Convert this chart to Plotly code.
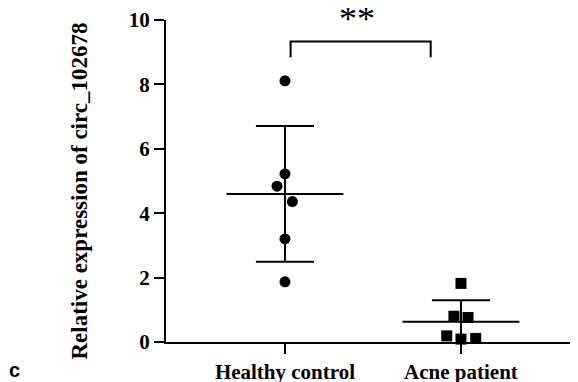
import numpy as np
import plotly.graph_objects as go

categories = ["Healthy control", "Acne patient"]
healthy_values = [8.11, 5.22, 4.84, 4.36, 3.20, 1.87]
acne_values = [1.82, 0.80, 0.76, 0.19, 0.09, 0.11]
y_ticks = [0, 2, 4, 6, 8, 10]
y_title = "Relative expression of circ_102678"
sig_label = "**"

# horizontal spread of points (layout only)
healthy_offsets = [0, 0, -0.045, 0.042, 0, 0]
acne_offsets = [0, -0.04, 0.04, -0.081, 0, 0.084]

FONT = "Liberation Serif"
fig = go.Figure()

groups = [(0, healthy_values, healthy_offsets, "circle"),
          (1, acne_values, acne_offsets, "square")]

for pos, vals, offs, sym in groups:
    vals = np.array(vals)
    m = vals.mean()
    sd = vals.std(ddof=1)
    lo = max(m - sd, 0)
    fig.add_trace(go.Scatter(
        x=[pos + o for o in offs], y=vals, mode="markers",
        marker=dict(symbol=sym, size=11, color="black"),
        cliponaxis=False, showlegend=False))
    line = dict(color="black", width=2)
    fig.add_trace(go.Scatter(x=[pos - 0.332, pos + 0.332], y=[m, m], mode="lines",
                             line=line, showlegend=False, cliponaxis=False))
    fig.add_trace(go.Scatter(x=[pos, pos], y=[lo, m + sd], mode="lines",
                             line=line, showlegend=False, cliponaxis=False))
    fig.add_trace(go.Scatter(x=[pos - 0.165, pos + 0.165], y=[m + sd, m + sd], mode="lines",
                             line=line, showlegend=False, cliponaxis=False))
    if m - sd > 0:
        fig.add_trace(go.Scatter(x=[pos - 0.165, pos + 0.165], y=[m - sd, m - sd], mode="lines",
                                 line=line, showlegend=False, cliponaxis=False))

# significance bracket
fig.add_trace(go.Scatter(x=[0.032, 0.032, 0.828, 0.828], y=[8.84, 9.33, 9.33, 8.84],
                         mode="lines", line=dict(color="black", width=2),
                         showlegend=False, cliponaxis=False))
fig.add_annotation(x=0.41, xref="x", yref="paper", y=1.003, text=sig_label, showarrow=False,
                   font=dict(family=FONT, size=36, color="black"), yanchor="middle")

# y-axis title as rotated annotation
fig.add_annotation(xref="paper", yref="paper", x=-0.209, y=0.47, textangle=-90,
                   text="<b>%s</b>" % y_title, showarrow=False,
                   xanchor="center", yanchor="middle",
                   font=dict(family=FONT, size=23, color="black"))

fig.add_annotation(xref="paper", yref="paper", x=-0.367, y=-0.087, xanchor="center",
                   yanchor="middle", text="<b>c</b>", showarrow=False,
                   font=dict(family="Liberation Sans", size=20, color="black"))

# page body has an 8px margin: figure is sized/offset to fill the 578x382 window
fig.update_layout(
    width=570, height=374,
    margin=dict(l=158, r=0, t=12, b=40),
    paper_bgcolor="white", plot_bgcolor="white",
    font=dict(family=FONT, color="black"),
    xaxis=dict(range=[-0.676, 1.665], tickvals=[0, 1], automargin=False,
               ticktext=["<b>%s</b>" % c for c in categories],
               showline=True, linecolor="black", linewidth=2,
               ticks="outside", ticklen=10, tickwidth=2, tickcolor="black",
               showgrid=False, zeroline=False,
               tickfont=dict(family=FONT, size=21, color="black")),
    yaxis=dict(range=[0, 10], tickvals=y_ticks, automargin=False,
               ticktext=["<b>%d</b>" % t for t in y_ticks],
               showline=True, linecolor="black", linewidth=2,
               ticks="outside", ticklen=10, tickwidth=2, tickcolor="black",
               showgrid=False, zeroline=False,
               tickfont=dict(family=FONT, size=21, color="black")),
)

fig.write_html("out.html")
